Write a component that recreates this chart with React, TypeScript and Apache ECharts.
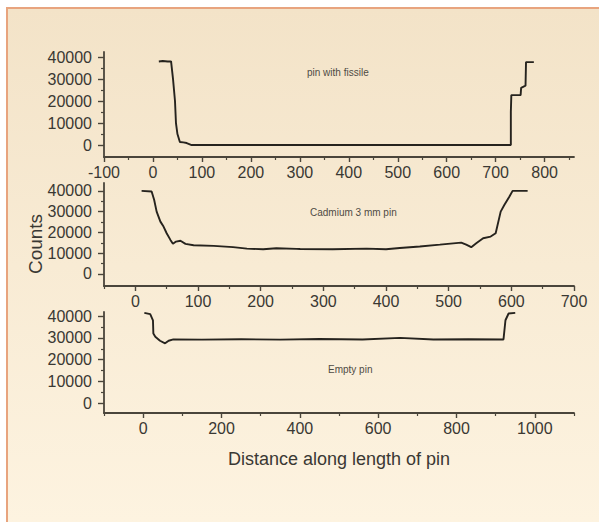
import React, { useEffect, useRef } from "react";
import * as echarts from "echarts";

// ---- data ----
const fissileX = [12, 20, 30, 37, 41, 45, 47, 50, 55, 62, 69, 79, 150, 300, 450, 600, 731, 731, 732, 751, 752, 761, 762, 770, 778];
const fissileY = [38000, 38200, 38000, 38000, 30000, 20000, 10000, 5000, 1400, 1200, 900, 0, 0, 0, 0, 0, 0, 15000, 22700, 22700, 26000, 27000, 37700, 37700, 37700];

const cadmiumX = [10, 26, 30, 34, 40, 45, 50, 56, 60, 65, 72, 80, 93, 125, 156, 178, 204, 225, 257, 263, 315, 369, 400, 422, 454, 486, 520, 528, 536, 544, 555, 567, 575, 583, 589, 597, 602, 626];
const cadmiumY = [40000, 39700, 35700, 30000, 25200, 22800, 19600, 16400, 14500, 15600, 16000, 14500, 13800, 13500, 12900, 12200, 11900, 12400, 12100, 12000, 11900, 12200, 11900, 12500, 13200, 14100, 15100, 14100, 12900, 14800, 17200, 18000, 19600, 30000, 33300, 37300, 40000, 40000];

const emptyX = [3, 18, 25, 26, 31, 43, 56, 65, 77, 150, 250, 350, 450, 560, 656, 741, 830, 920, 925, 933, 950];
const emptyY = [41500, 40900, 38100, 32000, 30500, 28700, 27500, 28700, 29300, 29200, 29400, 29200, 29500, 29300, 30000, 29300, 29400, 29300, 38100, 41200, 41500];

const yTicks = [0, 10000, 20000, 30000, 40000];
const yMinor = [5000, 15000, 25000, 35000];

const x1Ticks = [-100, 0, 100, 200, 300, 400, 500, 600, 700, 800];
const x1Minor = [-50, 50, 150, 250, 350, 450, 550, 650, 750, 850];
const x2Ticks = [0, 100, 200, 300, 400, 500, 600, 700];
const x2Minor = [-50, 50, 150, 250, 350, 450, 550, 650];
const x3Ticks = [0, 200, 400, 600, 800, 1000];
const x3Minor = [-100, 100, 300, 500, 700, 900, 1100];

const panelLabels = ["pin with fissile", "Cadmium 3 mm pin", "Empty pin"];
const xTitle = "Distance along length of pin";
const yTitle = "Counts";

const FONT = "'Liberation Sans', Arial, sans-serif";
const TEXT = "#3a3833";
const AXIS = "#4a453b";

export default function App() {
  const ref = useRef<HTMLDivElement>(null);

  useEffect(() => {
    if (!ref.current) return;
    const chart = echarts.init(ref.current, null, { renderer: "svg" });

    const grids = [
      { left: 104, right: 25, top: 52, height: 105 },
      { left: 104, right: 25, top: 183, height: 103 },
      { left: 104, right: 25, top: 312, height: 101 },
    ];
    const xRanges = [
      [-100, 860],
      [-50, 700],
      [-100, 1100],
    ];
    const yRanges = [
      [-5450, 42300],
      [-5800, 43800],
      [-4500, 41900],
    ];
    const xTickSets = [x1Ticks, x2Ticks, x3Ticks];
    const xMinorSets = [x1Minor, x2Minor, x3Minor];

    const xAxes: any[] = [];
    const yAxes: any[] = [];
    grids.forEach((_, i) => {
      xAxes.push({
        type: "value",
        gridIndex: i,
        position: "bottom",
        min: xRanges[i][0],
        max: xRanges[i][1],
        splitLine: { show: false },
        axisLine: { show: true, onZero: false, lineStyle: { color: AXIS, width: 1.8 } },
        axisTick: { show: true, customValues: xTickSets[i], length: 5, lineStyle: { color: AXIS, width: 1.4 } },
        axisLabel: {
          customValues: xTickSets[i],
          formatter: (v: number) => String(v),
          color: TEXT,
          fontSize: 16,
          fontFamily: FONT,
          margin: 7,
        },
        ...(i === 2
          ? {
              name: xTitle,
              nameLocation: "middle",
              nameGap: 37,
              nameTextStyle: { color: TEXT, fontSize: 18, fontFamily: FONT },
            }
          : {}),
      });
      xAxes.push({
        type: "value",
        gridIndex: i,
        position: "bottom",
        min: xRanges[i][0],
        max: xRanges[i][1],
        splitLine: { show: false },
        axisLine: { show: false, onZero: false },
        axisTick: { show: true, customValues: xMinorSets[i], length: 3, lineStyle: { color: AXIS, width: 1.2 } },
        axisLabel: { show: false },
      });
      yAxes.push({
        type: "value",
        gridIndex: i,
        position: "left",
        min: yRanges[i][0],
        max: yRanges[i][1],
        splitLine: { show: false },
        axisLine: { show: true, onZero: false, lineStyle: { color: AXIS, width: 1.8 } },
        axisTick: { show: true, customValues: yTicks, length: 6, lineStyle: { color: AXIS, width: 1.4 } },
        axisLabel: {
          customValues: yTicks,
          formatter: (v: number) => String(v),
          color: TEXT,
          fontSize: 16,
          fontFamily: FONT,
          margin: 12,
        },
      });
      yAxes.push({
        type: "value",
        gridIndex: i,
        position: "left",
        min: yRanges[i][0],
        max: yRanges[i][1],
        splitLine: { show: false },
        axisLine: { show: false, onZero: false },
        axisTick: { show: true, customValues: yMinor, length: 3, lineStyle: { color: AXIS, width: 1.2 } },
        axisLabel: { show: false },
      });
    });

    const xs = [fissileX, cadmiumX, emptyX];
    const ys = [fissileY, cadmiumY, emptyY];
    const series = xs.map((xv, i) => ({
      type: "line",
      xAxisIndex: i * 2,
      yAxisIndex: i * 2,
      data: xv.map((x, j) => [x, ys[i][j]]),
      symbol: "none",
      lineStyle: { color: "#26231e", width: 1.9 },
      silent: true,
    }));

    chart.setOption({
      animation: false,
      backgroundColor: "transparent",
      grid: grids.map((g) => ({ ...g, containLabel: false, outerBoundsMode: "none" })),
      xAxis: xAxes,
      yAxis: yAxes,
      series,
      graphic: [
        {
          type: "text",
          x: 35,
          y: 244,
          rotation: Math.PI / 2,
          style: {
            text: yTitle,
            fill: TEXT,
            fontSize: 19,
            fontFamily: FONT,
            align: "center",
            verticalAlign: "middle",
          },
        },
        {
          type: "text",
          x: 307,
          y: 72,
          style: { text: panelLabels[0], fill: "#4f4b44", fontSize: 10, fontFamily: FONT, verticalAlign: "middle" },
        },
        {
          type: "text",
          x: 310,
          y: 212,
          style: { text: panelLabels[1], fill: "#4f4b44", fontSize: 10, fontFamily: FONT, verticalAlign: "middle" },
        },
        {
          type: "text",
          x: 328,
          y: 369,
          style: { text: panelLabels[2], fill: "#4f4b44", fontSize: 10, fontFamily: FONT, verticalAlign: "middle" },
        },
      ],
    });

    return () => chart.dispose();
  }, []);

  return (
    <div style={{ position: "fixed", left: 0, top: 0, width: 599, height: 522, background: "#ffffff", overflow: "hidden" }}>
      <div
        style={{
          position: "absolute",
          left: 6,
          top: 7,
          right: 0,
          bottom: 0,
          borderLeft: "2.5px solid #e8a47e",
          borderTop: "2.5px solid #e8a47e",
          background: "linear-gradient(#f3e3c8, #fdf3e0)",
        }}
      />
      <div ref={ref} style={{ position: "absolute", left: 0, top: 0, width: 599, height: 522 }} />
    </div>
  );
}
